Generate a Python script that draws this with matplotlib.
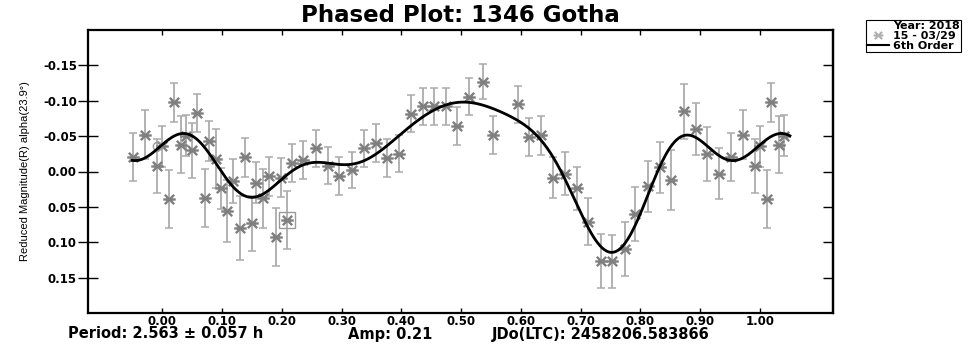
import numpy as np
import matplotlib
matplotlib.use("Agg")
import matplotlib.pyplot as plt
from matplotlib.path import Path
from matplotlib.lines import Line2D

# phase, reduced magnitude and error, one rotation (0..1)
phase = [0.011, 0.019, 0.031, 0.040, 0.050, 0.059, 0.071, 0.079, 0.090, 0.098,
         0.109, 0.119, 0.130, 0.138, 0.150, 0.157, 0.169, 0.179, 0.190, 0.198,
         0.208, 0.217, 0.236, 0.2575, 0.278, 0.2965, 0.317, 0.337, 0.357, 0.376,
         0.396, 0.416, 0.436, 0.455, 0.474, 0.493, 0.514, 0.536, 0.554, 0.595,
         0.614, 0.633, 0.653, 0.674, 0.6935, 0.713, 0.734, 0.753, 0.774, 0.791,
         0.812, 0.833, 0.851, 0.873, 0.893, 0.912, 0.932, 0.952, 0.971, 0.992,
         0.9995]
mag = [0.039, -0.0976, -0.038, -0.0507, -0.030, -0.083, 0.037, -0.043, -0.018, 0.024,
       0.056, 0.014, 0.080, -0.020, 0.073, 0.016, 0.038, 0.007, 0.092, 0.0085,
       0.068, -0.012, -0.016, -0.033, -0.008, 0.0065, -0.002, -0.033, -0.040, -0.019,
       -0.025, -0.0815, -0.092, -0.092, -0.092, -0.064, -0.106, -0.127, -0.052, -0.095,
       -0.049, -0.051, 0.009, 0.003, 0.024, 0.071, 0.127, 0.127, 0.110, 0.0605,
       0.021, -0.006, 0.012, -0.085, -0.060, -0.025, 0.003, -0.021, -0.052, -0.008,
       -0.036]
err = [0.041, 0.028, 0.040, 0.029, 0.039, 0.027, 0.041, 0.028, 0.042, 0.029,
       0.044, 0.031, 0.045, 0.028, 0.039, 0.029, 0.042, 0.028, 0.041, 0.028,
       0.041, 0.027, 0.027, 0.026, 0.026, 0.027, 0.026, 0.026, 0.027, 0.027,
       0.026, 0.026, 0.026, 0.026, 0.026, 0.027, 0.0265, 0.025, 0.027, 0.026,
       0.027, 0.027, 0.029, 0.030, 0.031, 0.033, 0.038, 0.037, 0.038, 0.038,
       0.036, 0.036, 0.043, 0.039, 0.037, 0.038, 0.036, 0.034, 0.035, 0.038,
       0.029]
boxed_idx = 20      # point drawn with a box around it
circled_idx = 60    # point drawn with a small open circle

xticks = [0.0, 0.1, 0.2, 0.3, 0.4, 0.5, 0.6, 0.7, 0.8, 0.9, 1.0]
yticks = [-0.15, -0.10, -0.05, 0.0, 0.05, 0.10, 0.15]
fit_order = 6
phase_min, phase_max = -0.05, 1.045

phase = np.array(phase)
mag = np.array(mag)
err = np.array(err)

# repeat points that fall in the overlap on either end
px, py, pe, pidx = [], [], [], []
for shift in (-1, 0, 1):
    p = phase + shift
    m = (p >= phase_min) & (p <= phase_max)
    px += list(p[m]); py += list(mag[m]); pe += list(err[m]); pidx += list(np.where(m)[0])
px, py, pe, pidx = map(np.array, (px, py, pe, pidx))

# 6th order fourier fit
def design(p):
    cols = [np.ones_like(p)]
    for k in range(1, fit_order + 1):
        cols += [np.cos(2 * np.pi * k * p), np.sin(2 * np.pi * k * p)]
    return np.column_stack(cols)

w = 1 / err
coef, *_ = np.linalg.lstsq(design(phase) * w[:, None], mag * w, rcond=None)
xf = np.linspace(-0.05, 1.05, 600)
yf = design(xf) @ coef

bold = {"family": "DejaVu Sans", "weight": "bold"}

fig = plt.figure(figsize=(9.8, 3.48), dpi=100)
ax = fig.add_axes([88 / 980, 35 / 348, 745 / 980, 283 / 348])

# asterisk: horizontal bar crossed by an X
star = Path([(-1, 0), (1, 0), (-0.75, -0.75), (0.75, 0.75), (-0.75, 0.75), (0.75, -0.75)],
            [Path.MOVETO, Path.LINETO, Path.MOVETO, Path.LINETO, Path.MOVETO, Path.LINETO])

ax.errorbar(px, py, yerr=pe, fmt="none", ecolor="#ababab", elinewidth=1.3,
            capsize=3, capthick=1.1, zorder=2)
ax.plot(px, py, linestyle="none", marker=star, markersize=9, markeredgewidth=1.7,
        markerfacecolor="none", markeredgecolor="#7f7f7f", zorder=3)
mb = pidx == boxed_idx
ax.plot(px[mb], py[mb], linestyle="none", marker="s", markersize=11,
        markerfacecolor="none", markeredgecolor="#9a9a9a", markeredgewidth=1, zorder=3)
mc = pidx == circled_idx
ax.plot(px[mc][:1] - 0.008, py[mc][:1], linestyle="none", marker="o", markersize=6,
        markerfacecolor="none", markeredgecolor="#9a9a9a", markeredgewidth=1, zorder=3)
ax.plot(xf, yf, color="black", linewidth=2, zorder=4)

ax.set_xlim(-0.124, 1.122)
ax.set_ylim(0.20, -0.20)
ax.set_xticks(xticks)
ax.set_xticklabels([f"{t:.2f}" for t in xticks], fontdict=bold, fontsize=8.5)
ax.set_yticks(yticks)
ax.set_yticklabels([f"{t:.2f}" for t in yticks], fontdict=bold, fontsize=8.5)
ax.tick_params(axis="x", direction="in", length=3.5, width=1, top=True, pad=1.5)
ax.tick_params(axis="y", direction="inout", length=14, width=1, pad=1)
for s in ax.spines.values():
    s.set_linewidth(1.6)

sec = ax.secondary_yaxis("right")
sec.set_yticks(yticks)
sec.tick_params(direction="in", length=7, width=1, labelright=False)
sec.spines["right"].set_linewidth(1.6)

ax.set_ylabel("Reduced Magnitude(R) alpha(23.9°)", fontsize=8,
              family=["Liberation Sans", "DejaVu Sans"])
ax.yaxis.set_label_coords(-58 / 745, 0.5)

fig.text(460 / 980, 1 - 15 / 348, "Phased Plot: 1346 Gotha", ha="center", va="center",
         fontsize=16.5, **bold)

fig.text(68 / 980, 1 - 334 / 348, "Period: 2.563 ± 0.057 h", ha="left", va="center",
         fontsize=10.5, **bold)
fig.text(348 / 980, 1 - 334 / 348, "Amp: 0.21", ha="left", va="center",
         fontsize=10.5, **bold)
fig.text(492 / 980, 1 - 334 / 348, "JDo(LTC): 2458206.583866", ha="left", va="center",
         fontsize=10.5, **bold)

handles = [Line2D([], [], linestyle="none"),
           Line2D([], [], linestyle="none", marker=star, markersize=7, markeredgewidth=1.5,
                  markerfacecolor="none", markeredgecolor="#b0b0b0"),
           Line2D([], [], color="black", linewidth=1.5)]
labels = ["Year: 2018", "15 - 03/29", "6th Order"]
leg = fig.legend(handles, labels, loc="upper left", bbox_to_anchor=(866 / 980, 1 - 20 / 348),
                 prop={"family": "DejaVu Sans", "weight": "bold", "size": 8},
                 handlelength=2.0, handletextpad=0.3, borderpad=0.1, labelspacing=0.0,
                 borderaxespad=0, fancybox=False, framealpha=1, edgecolor="black")
leg.get_frame().set_linewidth(0.8)

fig.savefig("out.png", dpi=100)
